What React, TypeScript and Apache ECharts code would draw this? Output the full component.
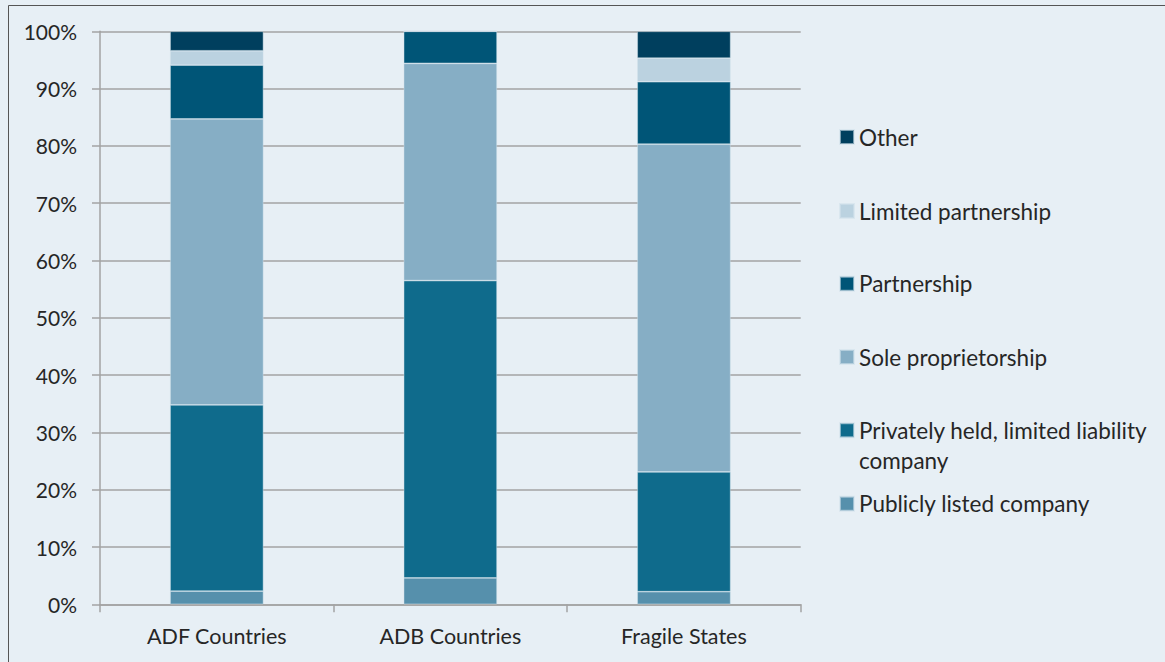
import React, { useEffect, useRef } from "react";
import * as echarts from "echarts";

const categories = ["ADF Countries", "ADB Countries", "Fragile States"];
const seriesNames = [
  "Publicly listed company",
  "Privately held, limited liability company",
  "Sole proprietorship",
  "Partnership",
  "Limited partnership",
  "Other",
];
const publiclyListed = [2.3, 4.6, 2.2];
const privatelyHeld = [32.5, 51.9, 20.9];
const soleProprietorship = [49.9, 37.9, 57.2];
const partnership = [9.4, 5.6, 10.9];
const limitedPartnership = [2.5, 0, 4.1];
const other = [3.4, 0, 4.7];
const seriesValues = [publiclyListed, privatelyHeld, soleProprietorship, partnership, limitedPartnership, other];
const colors = ["#5690AC", "#0F6B8C", "#86AEC5", "#005577", "#BBD2E0", "#003F5E"];

const FONT = "Lato";
const TEXT = "#262626";
const BG = "#E7EFF5";

export default function App() {
  const ref = useRef<HTMLDivElement>(null);
  useEffect(() => {
    if (!ref.current) return;
    const chart = echarts.init(ref.current, undefined, { renderer: "svg" });
    const legendCenters = [137, 211, 283.7, 357, 430.3, 503.7];
    const legendOrder = [5, 4, 3, 2, 1, 0];
    const legends = legendOrder.map((si, i) => {
      const isTwo = si === 1;
      return {
        left: 839,
        top: isTwo ? legendCenters[i] - 45 : legendCenters[i] - 12,
        padding: 0,
        orient: "vertical",
        icon: "rect",
        itemWidth: 14,
        itemHeight: 14,
        selectedMode: false,
        data: [seriesNames[si]],
        formatter: isTwo ? () => "\nPrivately held, limited liability\ncompany" : undefined,
        textStyle: isTwo
          ? { fontFamily: FONT, fontSize: 22.5, color: TEXT, lineHeight: 30 }
          : { fontFamily: FONT, fontSize: 22.5, color: TEXT, lineHeight: 24 },
      };
    });
    chart.setOption({
      animation: false,
      backgroundColor: BG,
      textStyle: { fontFamily: FONT },
      graphic: [
        {
          type: "rect",
          shape: { x: 8.5, y: 5.5, width: 1200, height: 700 },
          style: { fill: "none", stroke: "#555", lineWidth: 1 },
          silent: true,
        },
      ],
      legend: legends,
      grid: { left: 100, right: 364.3, top: 31.3, bottom: 57.7, containLabel: false },
      xAxis: {
        type: "category",
        data: categories,
        boundaryGap: true,
        axisLine: { show: true, lineStyle: { color: "#A3A3A3", width: 1.5 } },
        axisTick: { show: true, length: 8, alignWithLabel: false, lineStyle: { color: "#A3A3A3", width: 1.5 } },
        axisLabel: { fontFamily: FONT, fontSize: 21.5, color: TEXT, margin: 21 },
        splitLine: { show: false },
      },
      yAxis: {
        type: "value",
        min: 0,
        max: 100,
        interval: 10,
        axisLine: { show: true, lineStyle: { color: "#A3A3A3", width: 1.5 } },
        axisTick: { show: true, length: 8, lineStyle: { color: "#A3A3A3", width: 1.5 } },
        axisLabel: { fontFamily: FONT, fontSize: 21, color: TEXT, margin: 23, formatter: "{value}%" },
        splitLine: { show: true, lineStyle: { color: "#A3A3A3", width: 1.5 } },
      },
      series: seriesNames.map((name, i) => ({
        name,
        type: "bar",
        stack: "total",
        barWidth: "40%",
        data: seriesValues[i],
        itemStyle: { color: colors[i], borderColor: "rgba(210,225,235,0.6)", borderWidth: 0.75 },
        emphasis: { disabled: true },
      })),
    });
    return () => chart.dispose();
  }, []);
  return (
    <div
      ref={ref}
      style={{ position: "absolute", left: 0, top: 0, width: 1165, height: 662 }}
    />
  );
}
